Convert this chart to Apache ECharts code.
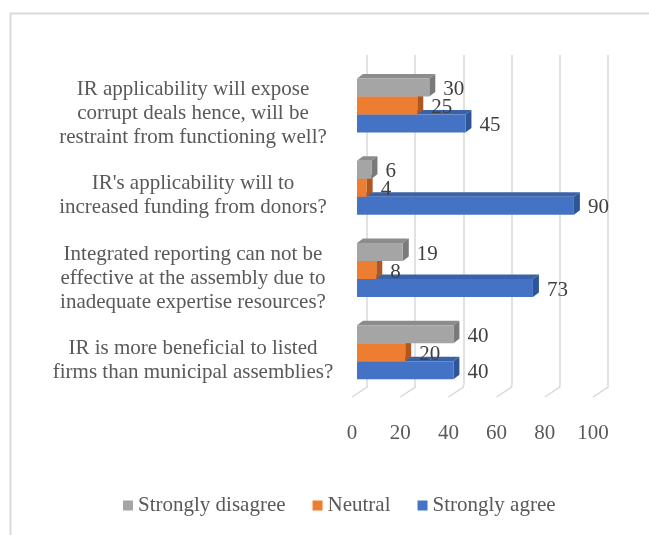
<!DOCTYPE html>
<html>
<head>
<meta charset="utf-8">
<script src="https://cdn.jsdelivr.net/npm/echarts@6/dist/echarts.min.js"></script>
<style>
html,body{margin:0;padding:0;background:#fff;}
#chart{width:649px;height:535px;}
</style>
</head>
<body>
<div id="chart"></div>
<script>
// Categories listed bottom-to-top (as in the source sheet)
var categories = [
  "IR is more beneficial to listed\nfirms than municipal assemblies?",
  "Integrated reporting can not be\neffective at the assembly due to\ninadequate expertise resources?",
  "IR's applicability will to\nincreased funding from donors?",
  "IR applicability will expose\ncorrupt deals hence, will be\nrestraint from functioning well?"
];
var seriesNames = ["Strongly disagree", "Neutral", "Strongly agree"];
var stronglyDisagree = [40, 19, 6, 30];
var neutral = [20, 8, 4, 25];
var stronglyAgree = [40, 73, 90, 45];
var xTicks = [0, 20, 40, 60, 80, 100];

var FONT = 'Liberation Serif';
var frontColors = ['#A5A5A5', '#ED7D31', '#4472C4'];
var topColors = ['#8C8C8C', '#C9672A', '#3A62A8'];
var sideColors = ['#7A7A7A', '#AE5820', '#2F5597'];
var BAR_H = 18, DX = 6, DY = 4.5;

var seriesData = [stronglyDisagree, neutral, stronglyAgree];

var chart = echarts.init(document.getElementById('chart'), null, {renderer: 'canvas'});

var series = [];

// back wall floor diagonals
series.push({
  type: 'custom',
  xAxisIndex: 0, yAxisIndex: 0,
  silent: true,
  z: 0,
  data: xTicks.map(function (t) { return [t, 0]; }),
  renderItem: function (params, api) {
    var p = api.coord([api.value(0), 0]);
    var cs = params.coordSys;
    var yb = cs.y + cs.height;
    return {
      type: 'polyline',
      shape: {points: [[p[0], yb], [p[0], yb + 2], [p[0] - 15, yb + 12]]},
      style: {stroke: '#D9D9D9', lineWidth: 1.5, fill: null}
    };
  }
});

seriesData.forEach(function (vals, s) {
  // 3D top & side faces
  series.push({
    type: 'custom',
    xAxisIndex: 1, yAxisIndex: 1,
    silent: true,
    z: 1 + (2 - s) * 2,
    data: vals.map(function (v, i) { return [v, i]; }),
    renderItem: function (params, api) {
      var v = api.value(0), c = api.value(1);
      var p0 = api.coord([0, c]);
      var p1 = api.coord([v, c]);
      var yt = p0[1] - 1.5 * BAR_H + s * BAR_H;
      var x0 = p0[0], x1 = p1[0];
      return {
        type: 'group',
        children: [
          {type: 'polygon', shape: {points: [[x0, yt], [x1, yt], [x1 + DX, yt - DY], [x0 + DX, yt - DY]]},
           style: {fill: topColors[s]}},
          {type: 'polygon', shape: {points: [[x1, yt], [x1 + DX, yt - DY], [x1 + DX, yt + BAR_H - DY], [x1, yt + BAR_H]]},
           style: {fill: sideColors[s]}}
        ]
      };
    }
  });
  // front faces
  series.push({
    name: seriesNames[s],
    type: 'bar',
    xAxisIndex: 1, yAxisIndex: 1,
    z: 2 + (2 - s) * 2,
    barWidth: BAR_H,
    barGap: '0%',
    data: vals,
    itemStyle: {color: frontColors[s]},
    label: {
      show: true, position: 'right', distance: 14, offset: [0, 2],
      color: '#404040', fontSize: 21, fontFamily: FONT
    }
  });
});

var option = {
  animation: false,
  backgroundColor: '#fff',
  textStyle: {fontFamily: FONT},
  graphic: [{
    type: 'rect', z: -10,
    shape: {x: 10.5, y: 13.5, width: 700, height: 600},
    style: {fill: null, stroke: '#D9D9D9', lineWidth: 2}
  }],
  legend: {
    data: seriesNames,
    left: 123, top: 495, padding: 0,
    icon: 'rect', itemWidth: 10, itemHeight: 10, itemGap: 27,
    textStyle: {color: '#595959', fontSize: 21, fontFamily: FONT}
  },
  grid: [
    {left: 367, top: 55, width: 241, height: 330},
    {left: 357, top: 64.4, width: 241, height: 329},
    {left: 352, top: 67, width: 241, height: 330},
    {left: 357, top: 72.4, width: 241, height: 329}
  ],
  xAxis: [
    {gridIndex: 0, type: 'value', min: 0, max: 100, interval: 20,
     axisLine: {show: false}, axisTick: {show: false}, axisLabel: {show: false},
     splitLine: {show: true, lineStyle: {color: '#D9D9D9', width: 1.5}}},
    {gridIndex: 1, type: 'value', min: 0, max: 100, interval: 20,
     axisLine: {show: false}, axisTick: {show: false}, axisLabel: {show: false}, splitLine: {show: false}},
    {gridIndex: 2, type: 'value', min: 0, max: 100, interval: 20,
     axisLine: {show: false}, axisTick: {show: false}, splitLine: {show: false},
     axisLabel: {show: true, margin: 26, color: '#595959', fontSize: 21, fontFamily: FONT,
       formatter: function (v) { return xTicks.indexOf(v) >= 0 ? String(v) : ''; }}},
    {gridIndex: 3, type: 'value', min: 0, max: 100, show: false}
  ],
  yAxis: [
    {gridIndex: 0, type: 'category', data: categories, show: false},
    {gridIndex: 1, type: 'category', data: categories,
     axisLine: {show: false}, axisTick: {show: false}, splitLine: {show: false}, axisLabel: {show: false}},
    {gridIndex: 2, type: 'category', data: categories, show: false},
    {gridIndex: 3, type: 'category', data: categories,
     axisLine: {show: false}, axisTick: {show: false}, splitLine: {show: false},
     axisLabel: {show: true, align: 'center', margin: 164, lineHeight: 24,
       color: '#595959', fontSize: 21, fontFamily: FONT}}
  ],
  series: series
};
chart.setOption(option);
</script>
</body>
</html>
